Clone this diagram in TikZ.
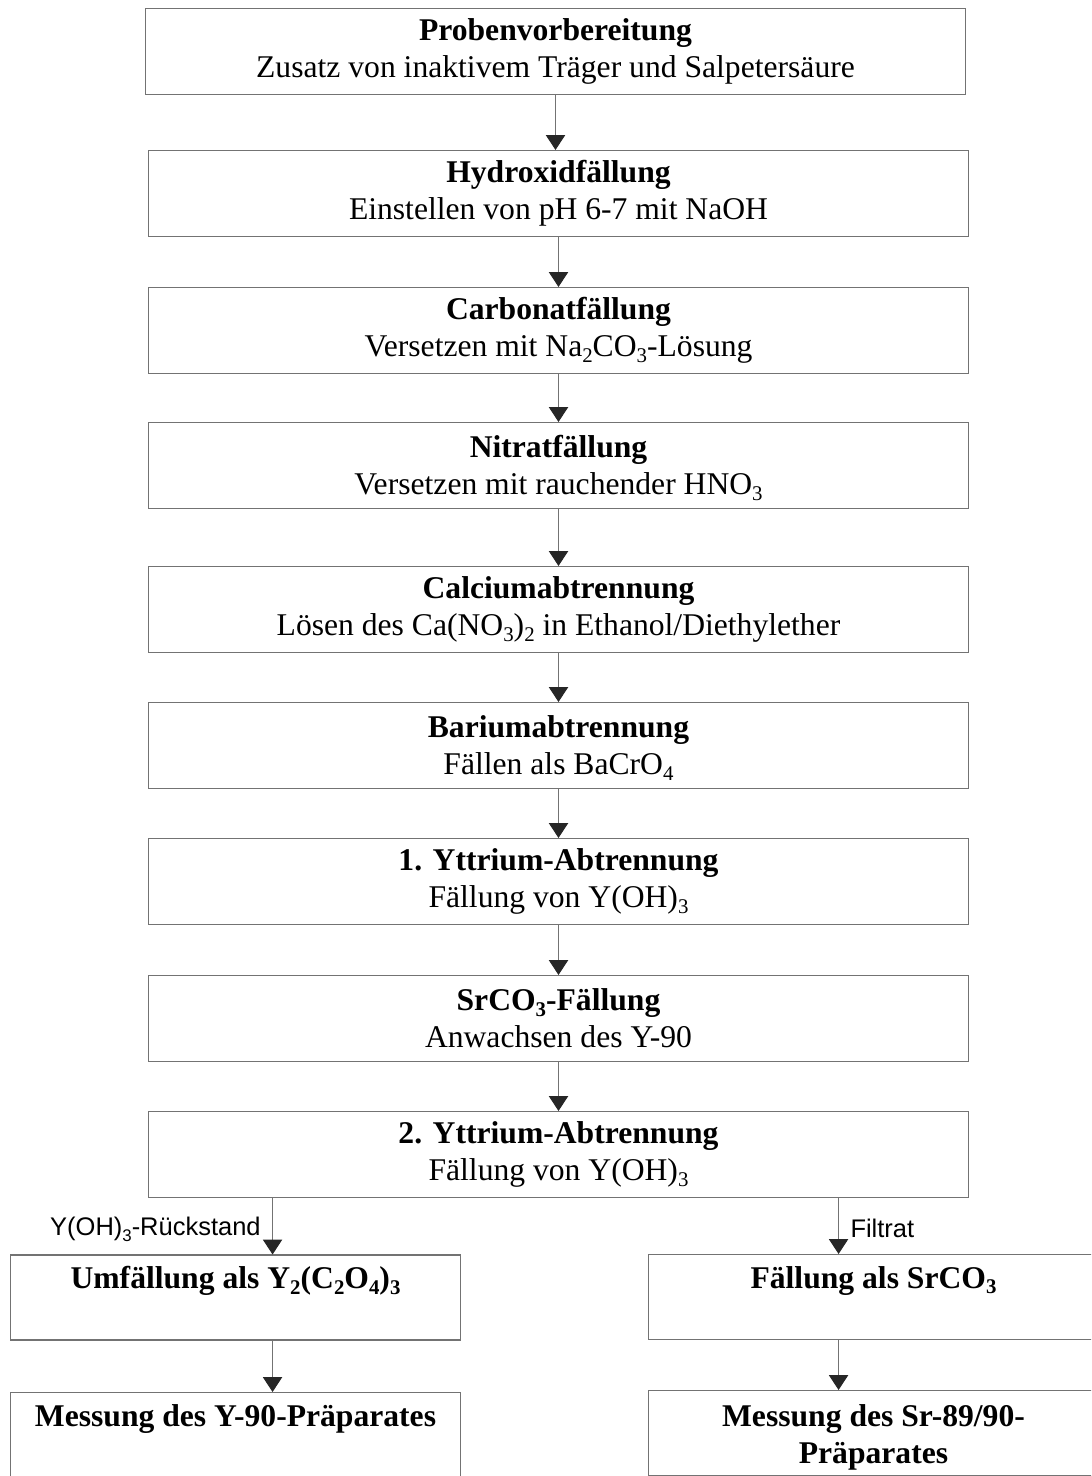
\documentclass[tikz,border=0pt]{standalone}
\usepackage{fontspec}
\setmainfont{Liberation Serif}
\setsansfont{Liberation Sans}
\usetikzlibrary{arrows.meta,calc}

% chemical subscripts, set low and small as in the original
\newcommand{\chsub}[1]{\raisebox{-0.4ex}[0pt][0pt]{\scalebox{0.66}{#1}}}
% move a line down a little without changing the box
\newcommand{\lowline}[1]{\raisebox{-2.3pt}[\height][\depth]{#1}}

\tikzset{
  stepbox/.style={draw=black!55, line width=0.6pt, minimum width=16.42cm, minimum height=1.72cm,
    inner sep=0pt, align=center, font=\fontsize{18}{21}\selectfont},
  sidebox/.style={stepbox, minimum width=9.02cm, minimum height=1.7cm},
  flow/.style={draw=black!55, line width=0.6pt, -{Triangle[width=11pt,length=8.5pt,color=black!85]}},
  note/.style={font=\sffamily\fontsize{14.5}{16}\selectfont, inner xsep=6.5pt, inner ysep=1pt}
}

\begin{document}
\begin{tikzpicture}[x=0.02cm, y=-0.02cm]
  \path[use as bounding box] (0,0) rectangle (1091,1476);
  \clip (0,0) rectangle (1091,1476);

  % main column
  \node[stepbox] (prep) at (555.5,51.5) {\textbf{Probenvorbereitung}\\Zusatz von inaktivem Träger und Salpetersäure};
  \node[stepbox] (hydr) at (558.5,193.5) {\textbf{Hydroxidfällung}\\Einstellen von pH 6-7 mit NaOH};
  \node[stepbox] (carb) at (558.5,330.5) {\textbf{Carbonatfällung}\\Versetzen mit Na\chsub{2}CO\chsub{3}-Lösung};
  \node[stepbox] (nitr) at (558.5,465.5) {\textbf{Nitratfällung}\\Versetzen mit rauchender HNO\chsub{3}};
  \node[stepbox] (calc) at (558.5,609.5) {\textbf{Calciumabtrennung}\\Lösen des Ca(NO\chsub{3})\chsub{2} in Ethanol/Diethylether};
  \node[stepbox] (bari) at (558.5,745.5) {\textbf{Bariumabtrennung}\\Fällen als BaCrO\chsub{4}};
  \node[stepbox] (ytta) at (558.5,881.5) {\textbf{1. Yttrium-Abtrennung}\\Fällung von Y(OH)\chsub{3}};
  \node[stepbox] (srca) at (558.5,1018.5) {\textbf{SrCO\chsub{3}-Fällung}\\Anwachsen des Y-90};
  \node[stepbox] (yttb) at (558.5,1154.5) {\textbf{2. Yttrium-Abtrennung}\\Fällung von Y(OH)\chsub{3}};

  % two branches
  \node[sidebox] (oxal) at (235.5,1297.5) {\lowline{\textbf{Umfällung als Y\chsub{2}(C\chsub{2}O\chsub{4})\chsub{3}}}\\\strut};
  \node[sidebox] (ymes) at (235.5,1435) {\lowline{\textbf{Messung des Y-90-Präparates}}\\\strut};
  \node[sidebox] (srfl) at (873.5,1297) {\lowline{\textbf{Fällung als SrCO\chsub{3}}}\\\strut};
  \node[sidebox] (srme) at (873.5,1433) {\lowline{\textbf{Messung des Sr-89/90-}}\\\lowline{\textbf{Präparates}}};

  \draw[flow] (prep.south) -- (prep.south |- hydr.north);
  \draw[flow] (hydr) -- (carb);
  \draw[flow] (carb) -- (nitr);
  \draw[flow] (nitr) -- (calc);
  \draw[flow] (calc) -- (bari);
  \draw[flow] (bari) -- (ytta);
  \draw[flow] (ytta) -- (srca);
  \draw[flow] (srca) -- (yttb);

  \path (yttb.south west) ++(125,0) coordinate (ya);
  \path (yttb.south west) ++(691,0) coordinate (yb);
  \draw[flow] (ya) -- (ya |- oxal.north) node[note, pos=0.55, left] {Y(OH)\chsub{3}-Rückstand};
  \draw[flow] (yb) -- (yb |- srfl.north) node[note, pos=0.55, right] {Filtrat};
  \draw[flow] (ya |- oxal.south) -- (ya |- ymes.north);
  \draw[flow] (yb |- srfl.south) -- (yb |- srme.north);
\end{tikzpicture}
\end{document}
